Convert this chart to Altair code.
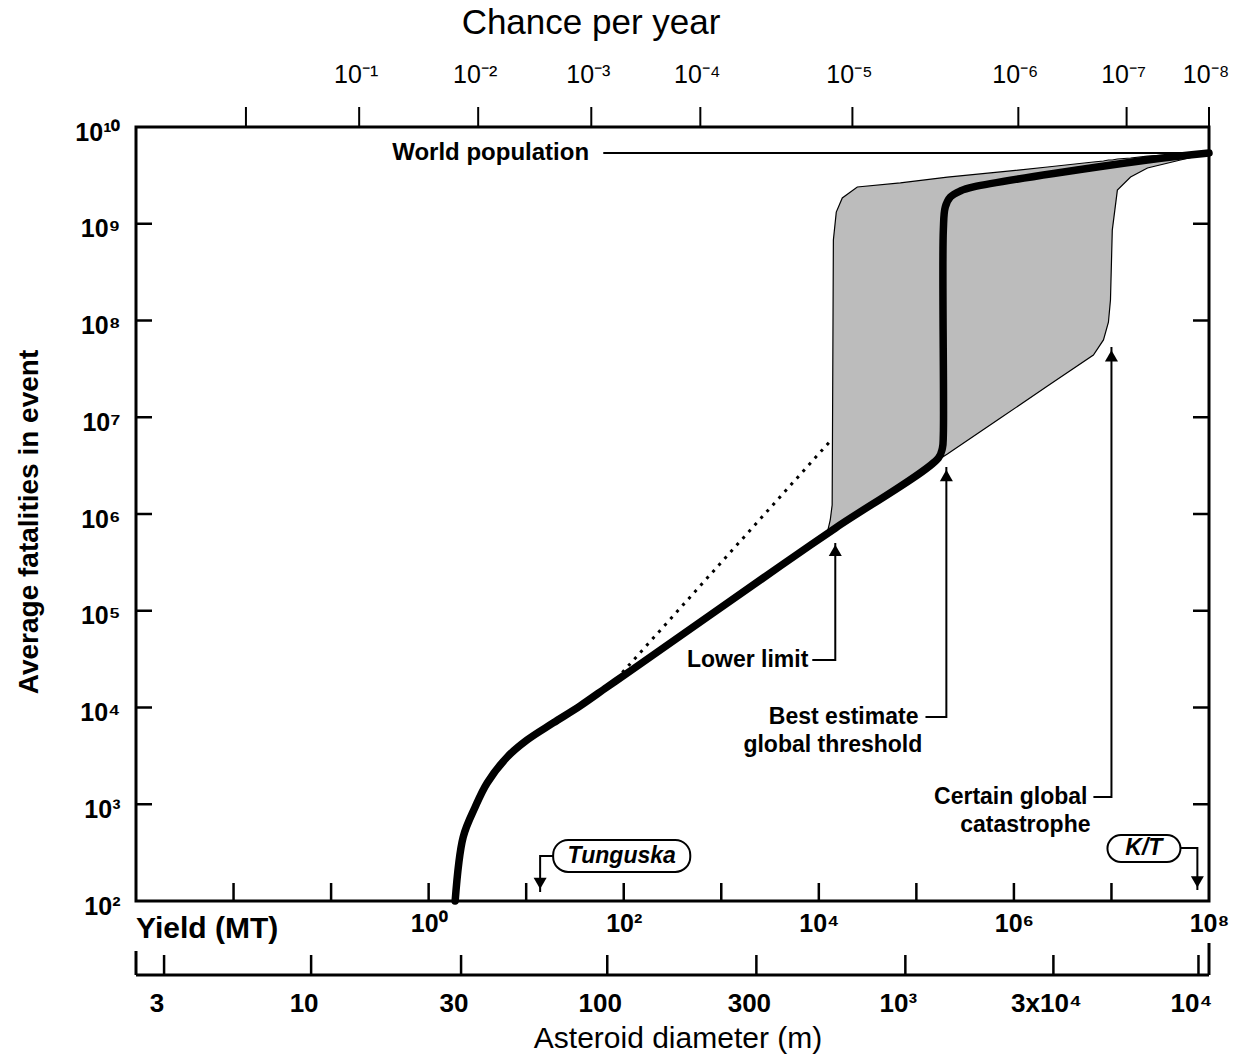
import altair as alt
import pandas as pd

SUP = str.maketrans("0123456789-", "⁰¹²³⁴⁵⁶⁷⁸⁹⁻")


def pow10(e):
    return "10" + str(e).translate(SUP)


W, H = 1073, 774
FONT = "Liberation Sans"

# ---------------- data ----------------
# Best-estimate curve: yield (MT) vs average fatalities
best_yield = [1.87, 2.26, 3.0, 3.98, 6.4, 10.2, 18.9, 35.8, 67.7, 125, 4030, 14800,
              168000, 185000, 189000, 189000, 198000, 223000, 282000, 385000, 2.34e7, 1e8]
best_fatal = [100, 458, 937, 1660, 3080, 4610, 6920, 10400, 16300, 25000, 290000, 716000,
              3.79e6, 4.81e6, 6.56e6, 8.6e8, 1.49e9, 1.89e9, 2.18e9, 2.4e9, 4.56e9, 5.38e9]

# Shaded uncertainty band
band_yield = [12200, 13100, 13700, 14100, 15100, 17400, 24800, 68500, 208000, 728000, 2.21e6,
              6.53e6, 8.28e6, 9.31e6, 9.77e6, 1.02e7, 1.15e7, 1.57e7, 2.34e7, 5.1e7, 1e8]
band_low = [637000, 667000, 684000, 700000, 734000, 807000, 1.02e6, 2.04e6, 4.17e6, 9.82e6, 2.1e7,
            4.4e7, 6.3e7, 9.6e7, 1.63e8, 8.6e8, 2.23e9, 3.04e9, 3.77e9, 4.56e9, 5.38e9]
band_high = [637000, 867000, 1.24e6, 6.8e8, 1.32e9, 1.85e9, 2.4e9, 2.64e9, 3.04e9, 3.43e9, 3.86e9,
             4.35e9, 4.45e9, 4.56e9, 4.56e9, 4.56e9, 4.67e9, 4.78e9, 5.01e9, 5.26e9, 5.38e9]

# Dotted line
dotted_yield = [72.8, 13400]
dotted_fatal = [16700, 5.82e6]

WORLD_POP = 5.38e9

# Axes
x_tick_vals = [1e-2, 1e-1, 1, 10, 100, 1e3, 1e4, 1e5, 1e6, 1e7]
x_label_vals = [1, 1e2, 1e4, 1e6, 1e8]
y_tick_vals = [1e3, 1e4, 1e5, 1e6, 1e7, 1e8, 1e9]
y_label_vals = [1e2, 1e3, 1e4, 1e5, 1e6, 1e7, 1e8, 1e9, 1e10]

# Top axis: chance per year (positions expressed in yield units)
chance_pos = [0.0134, 0.194, 3.22, 46.5, 610, 22100, 1.11e6, 1.43e7, 1e8]
chance_labels = ["", pow10(-1), pow10(-2), pow10(-3), pow10(-4), pow10(-5), pow10(-6), pow10(-7), pow10(-8)]

# Second bottom axis: asteroid diameter (positions expressed in yield units)
diam_pos = [1.94e-3, 0.0624, 2.15, 67.8, 2290, 77100, 2.54e6, 7.8e7]
diam_labels = ["3", "10", "30", "100", "300", "10³", "3x10⁴", "10⁴"]

# Annotation leader lines (id, x, y)
leader_id = ["lower", "lower", "lower", "best", "best", "best", "cert", "cert", "cert",
             "tung", "tung", "tung", "kt", "kt", "kt", "world", "world"]
leader_x = [8570, 14750, 14750, 124000, 203000, 203000, 6.53e6, 1.0e7, 1.0e7,
            18.9, 13.9, 13.9, 5.1e7, 7.6e7, 7.6e7, 61.7, 1e8]
leader_y = [31000, 31000, 501000, 7980, 7980, 3.06e6, 1190, 1190, 5.32e7,
            292, 292, 124, 353, 353, 130, WORLD_POP, WORLD_POP]

arrow_x = [14750, 203000, 1.0e7, 13.9, 7.6e7]
arrow_y = [420000, 2.5e6, 4.3e7, 152, 158]
arrow_shape = ["triangle-up", "triangle-up", "triangle-up", "triangle-down", "triangle-down"]

rtext = ["Lower limit", "Best estimate", "global threshold", "Certain global", "catastrophe"]
rtext_x = [7800, 105000, 115000, 5.67e6, 6.1e6]
rtext_y = [31000, 7980, 4090, 1190, 611]

box_label = ["Tunguska", "K/T"]
box_x1 = [18.9, 9.1e6]
box_x2 = [481, 5.1e7]
box_y1 = [200, 253]
box_y2 = [427, 481]
box_cx = [95.4, 2.15e7]
box_cy = [292, 353]

# ---------------- chart ----------------
xs = alt.Scale(type="log", domain=[1e-3, 1e8], nice=False)
ys = alt.Scale(type="log", domain=[1e2, 1e10], nice=False)

sup_arr = "[" + ",".join("'" + pow10(e) + "'" for e in range(0, 11)) + "]"
lab_expr = sup_arr + "[round(log(datum.value)/LN10)]"

x_axis = alt.Axis(values=x_label_vals, labelExpr=lab_expr, ticks=False, domain=False, grid=False,
                  labelFont=FONT, labelFontSize=25, labelFontWeight="bold", labelColor="black",
                  labelPadding=10, labelFlush=False, labelOverlap=False, title=None)
y_axis = alt.Axis(values=y_label_vals, labelExpr=lab_expr, ticks=False, domain=False, grid=False,
                  labelFont=FONT, labelFontSize=25, labelFontWeight="bold", labelColor="black",
                  labelPadding=16, labelOffset=5, labelFlush=False, labelOverlap=False, title=None)


def X(f="x"):
    return alt.X(f + ":Q", scale=xs, axis=x_axis)


def Y(f="y"):
    return alt.Y(f + ":Q", scale=ys, axis=y_axis)


one = pd.DataFrame({"a": [0]})

band = alt.Chart(pd.DataFrame({"x": band_yield, "lo": band_low, "hi": band_high})).mark_area(
    fill="#bcbcbc", stroke="black", strokeWidth=1.2
).encode(x=X("x"), y=Y("lo"), y2="hi:Q")

best = alt.Chart(pd.DataFrame({"x": best_yield, "y": best_fatal, "i": list(range(len(best_yield)))})).mark_line(
    color="black", strokeWidth=7.5, strokeCap="round", strokeJoin="round", interpolate="catmull-rom"
).encode(x=X(), y=Y(), order="i:Q")

dotted = alt.Chart(pd.DataFrame({"x": dotted_yield, "y": dotted_fatal})).mark_line(
    color="black", strokeWidth=3, strokeDash=[3, 6]
).encode(x=X(), y=Y())

leaders = alt.Chart(pd.DataFrame({"id": leader_id, "x": leader_x, "y": leader_y,
                                  "i": list(range(len(leader_x)))})).mark_line(
    color="black", strokeWidth=2
).encode(x=X(), y=Y(), detail="id:N", order="i:Q")

arrows = alt.Chart(pd.DataFrame({"x": arrow_x, "y": arrow_y, "s": arrow_shape})).mark_point(
    filled=True, color="black", opacity=1, size=170
).encode(x=X(), y=Y(), shape=alt.Shape("s:N", scale=None))

rtexts = alt.Chart(pd.DataFrame({"x": rtext_x, "y": rtext_y, "t": rtext})).mark_text(
    font=FONT, fontSize=23, fontWeight="bold", align="right", baseline="middle", color="black"
).encode(x=X(), y=Y(), text="t:N")

world_txt = alt.Chart(pd.DataFrame({"x": [0.423], "y": [WORLD_POP], "t": ["World population"]})).mark_text(
    font=FONT, fontSize=24, fontWeight="bold", align="left", baseline="middle", color="black"
).encode(x=X(), y=Y(), text="t:N")

boxes = alt.Chart(pd.DataFrame({"x1": box_x1, "x2": box_x2, "y1": box_y1, "y2": box_y2})).mark_rect(
    fill="white", stroke="black", strokeWidth=2, cornerRadius=15
).encode(x=X("x1"), x2="x2:Q", y=Y("y1"), y2="y2:Q")

box_txt = alt.Chart(pd.DataFrame({"x": box_cx, "y": box_cy, "t": box_label})).mark_text(
    font=FONT, fontSize=23, fontStyle="italic", fontWeight="bold", align="center", baseline="middle",
    color="black"
).encode(x=X(), y=Y(), text="t:N")

# frame ticks
bt = alt.Chart(pd.DataFrame({"x": x_tick_vals})).mark_rule(color="black", strokeWidth=2.5).encode(
    x=X(), y=alt.value(H), y2=alt.value(H - 18))
lt = alt.Chart(pd.DataFrame({"y": y_tick_vals})).mark_rule(color="black", strokeWidth=2.5).encode(
    y=Y(), x=alt.value(0), x2=alt.value(16))
rt = alt.Chart(pd.DataFrame({"y": y_tick_vals})).mark_rule(color="black", strokeWidth=2.5).encode(
    y=Y(), x=alt.value(W), x2=alt.value(W - 16))

# top axis
top_ticks = alt.Chart(pd.DataFrame({"x": chance_pos})).mark_rule(color="black", strokeWidth=2).encode(
    x=X(), y=alt.value(0), y2=alt.value(-20))
top_labels = alt.Chart(pd.DataFrame({"x": chance_pos, "t": chance_labels})).mark_text(
    font=FONT, fontSize=25, align="center", baseline="middle", color="black", dx=-3
).encode(x=X(), y=alt.value(-52), text="t:N")
top_title = alt.Chart(one).mark_text(
    font=FONT, fontSize=35, align="center", baseline="middle", color="black", text="Chance per year"
).encode(x=alt.value(455), y=alt.value(-104))

# diameter axis
DY = H + 74
d_line = alt.Chart(one).mark_rule(color="black", strokeWidth=3).encode(
    x=alt.value(0), x2=alt.value(W), y=alt.value(DY))
d_ends = alt.Chart(one).mark_rule(color="black", strokeWidth=3).encode(
    x=alt.value(0), y=alt.value(DY), y2=alt.value(DY - 24))
d_ende = alt.Chart(one).mark_rule(color="black", strokeWidth=3).encode(
    x=alt.value(W), y=alt.value(DY), y2=alt.value(DY - 32))
d_ticks = alt.Chart(pd.DataFrame({"x": diam_pos})).mark_rule(color="black", strokeWidth=2.5).encode(
    x=X(), y=alt.value(DY), y2=alt.value(DY - 20))
d_labels = alt.Chart(pd.DataFrame({"x": diam_pos, "t": diam_labels})).mark_text(
    font=FONT, fontSize=26, fontWeight="bold", align="center", baseline="middle", color="black", dx=-7
).encode(x=X(), y=alt.value(H + 103), text="t:N")
d_title = alt.Chart(one).mark_text(
    font=FONT, fontSize=30, align="center", baseline="middle", color="black", text="Asteroid diameter (m)"
).encode(x=alt.value(542), y=alt.value(H + 138))

yield_lbl = alt.Chart(one).mark_text(
    font=FONT, fontSize=30, fontWeight="bold", align="left", baseline="middle", color="black", text="Yield (MT)"
).encode(x=alt.value(0), y=alt.value(H + 28))

y_title = alt.Chart(one).mark_text(
    font=FONT, fontSize=28, fontWeight="bold", align="center", baseline="middle", color="black",
    angle=270, text="Average fatalities in event"
).encode(x=alt.value(-106), y=alt.value(H / 2 + 8))

chart = alt.layer(
    band, dotted, best, leaders, arrows, rtexts, world_txt, boxes, box_txt,
    bt, lt, rt, top_ticks, top_labels, top_title,
    d_line, d_ends, d_ende, d_ticks, d_labels, d_title, yield_lbl, y_title
).properties(
    width=W, height=H,
    padding={"left": 136, "top": 127, "right": 43, "bottom": 153},
    autosize=alt.AutoSizeParams(type="none"),
    background="white",
).configure_view(stroke="black", strokeWidth=3).configure_axis(grid=False)

chart.save("out.html", embed_options={"renderer": "svg", "actions": False})
